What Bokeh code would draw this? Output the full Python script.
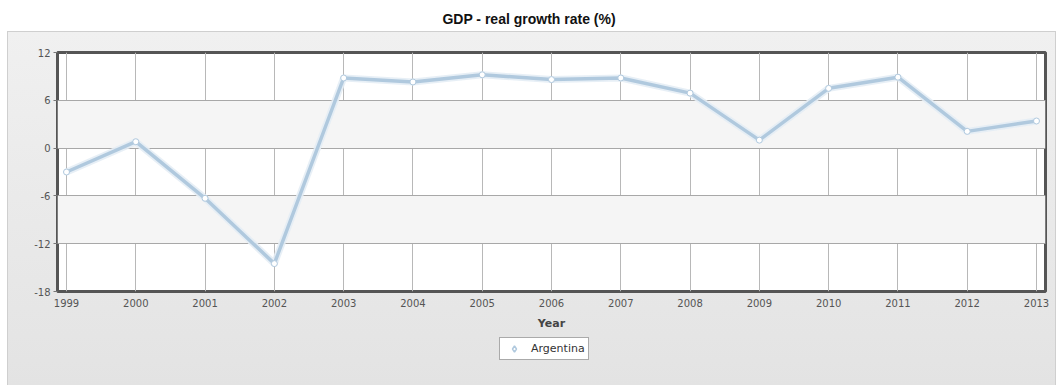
from bokeh.plotting import figure
from bokeh.models import Legend, LegendItem, FixedTicker, Range1d, Div, PrintfTickFormatter
from bokeh.layouts import column
from bokeh.embed import file_html
from bokeh.resources import INLINE

years = [1999, 2000, 2001, 2002, 2003, 2004, 2005, 2006, 2007, 2008, 2009, 2010, 2011, 2012, 2013]
growth = [-3.0, 0.8, -6.3, -14.5, 8.8, 8.3, 9.2, 8.6, 8.8, 6.9, 1.0, 7.5, 8.9, 2.1, 3.4]
y_ticks = [-18, -12, -6, 0, 6, 12]
title_text = "GDP - real growth rate (%)"
series_name = "Argentina"
x_label = "Year"

LINE_COLOR = "#b0c9de"

title = Div(text=title_text, width=1058, height=31, margin=0,
            styles={"font-family": "'Liberation Sans', Arial, sans-serif",
                    "font-weight": "bold", "font-size": "14px", "color": "#111111",
                    "text-align": "center", "width": "1058px", "line-height": "38px",
                    "background": "white"})

p = figure(width=1049, height=305, output_backend="svg", toolbar_location=None,
           title=None, x_range=Range1d(1998.87, 2013.13), y_range=Range1d(-18, 12),
           min_border_left=50, min_border_right=11, min_border_top=21, min_border_bottom=45,
           margin=(0, 2, 0, 7))
p.border_fill_color = None
p.styles = {"background": "linear-gradient(#f0f0f0, #e5e5e5)",
            "box-shadow": "inset 1px 1px 0 #cfcfcf, inset -1px 0 0 #cfcfcf"}
p.background_fill_color = "white"
p.outline_line_color = "#555555"
p.outline_line_width = 3

p.yaxis.ticker = FixedTicker(ticks=y_ticks)
p.yaxis.formatter = PrintfTickFormatter(format="%d")
p.xaxis.ticker = FixedTicker(ticks=years)
p.ygrid.grid_line_color = "#a8a8a8"
p.xgrid.grid_line_color = "#b8b8b8"
p.ygrid.band_fill_color = "#f5f5f5"
p.ygrid.band_fill_alpha = 1

for ax in (p.xaxis, p.yaxis):
    ax.axis_line_color = None
    ax.major_label_text_font = "DejaVu Sans"
    ax.major_label_text_font_size = "10px"
    ax.major_label_text_color = "#555555"
    ax.minor_tick_line_color = None
    ax.major_tick_line_color = "#777777"
    ax.major_tick_in = 0
p.yaxis.major_tick_out = 4
p.xaxis.major_tick_out = 0
p.xaxis.major_label_standoff = 7
p.yaxis.major_label_standoff = 3
p.xaxis.axis_label = x_label
p.xaxis.axis_label_text_font = "DejaVu Sans"
p.xaxis.axis_label_text_font_size = "11px"
p.xaxis.axis_label_text_font_style = "bold"
p.xaxis.axis_label_text_color = "#444444"
p.xaxis.axis_label_standoff = 7

p.line(years, growth, line_color="#e4edf5", line_width=7, line_alpha=0.9)
p.line(years, growth, line_color=LINE_COLOR, line_width=3.5)
p.scatter(years, growth, size=6, fill_color="white", line_color=LINE_COLOR, line_width=1)

# legend strip below the chart
lg = figure(width=1049, height=49, output_backend="svg", toolbar_location=None,
            title=None, x_axis_type=None, y_axis_type=None,
            x_range=Range1d(0, 1), y_range=Range1d(0, 1),
            min_border=0, min_border_left=0, min_border_right=0,
            min_border_top=0, min_border_bottom=0,
            margin=(0, 2, 0, 7))
lg.border_fill_color = None
lg.background_fill_color = None
lg.styles = {"background": "linear-gradient(#e5e5e5, #e3e3e3)",
             "box-shadow": "inset 1px 0 0 #cfcfcf, inset -1px 0 0 #cfcfcf"}
lg.outline_line_color = None
lg.xgrid.visible = False
lg.ygrid.visible = False
key = lg.scatter(years, growth, size=10, marker="diamond", fill_color="white",
                 line_color=LINE_COLOR, line_width=1.5)

legend = Legend(items=[LegendItem(label=series_name, renderers=[key])],
                location=(442, 25), orientation="horizontal",
                border_line_color="#555555", border_line_width=1,
                background_fill_color="white", background_fill_alpha=1,
                label_text_font="DejaVu Sans", label_text_font_size="11px",
                label_text_color="#333333", padding=3, margin=0, spacing=0,
                glyph_width=22, glyph_height=15, label_standoff=6)
lg.add_layout(legend)

layout = column(title, p, lg, margin=0, spacing=0)
open("out.html", "w").write(file_html(layout, INLINE))
